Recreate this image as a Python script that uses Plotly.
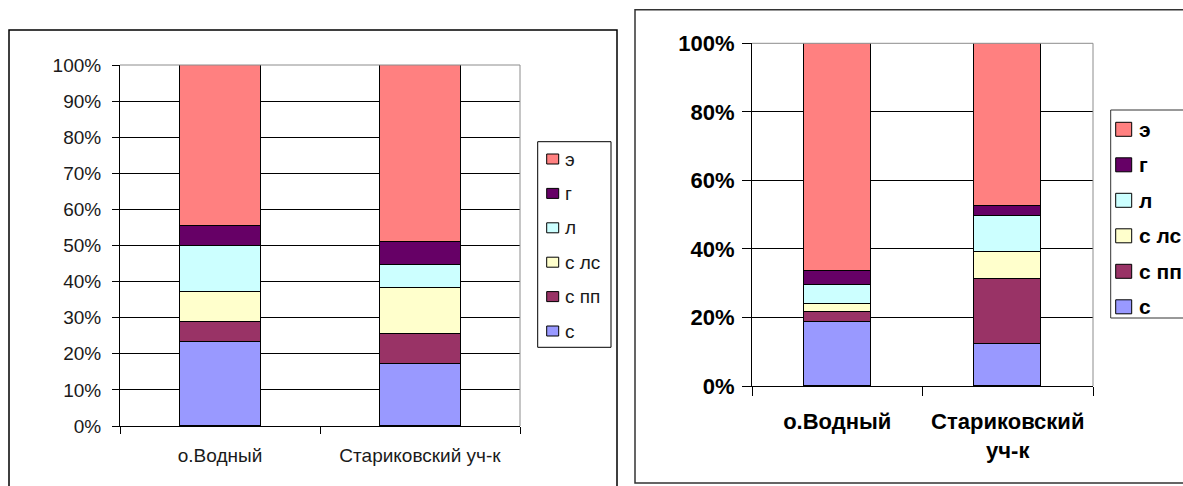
import plotly.graph_objects as go

W, H = 1183, 486

# Sites (categories) and series, bottom of the stack first
sites_left = ["о.Водный", "Стариковский уч-к"]
sites_right = ["о.Водный", "Стариковский<br>уч-к"]
series = ["с", "с пп", "с лс", "л", "г", "э"]
colors = ["#9999FF", "#993366", "#FFFFCC", "#CCFFFF", "#660066", "#FF8080"]

# Shares, % (left chart)
left_vodny = [23.4, 5.3, 8.5, 12.7, 5.5, 44.6]
left_starik = [17.1, 8.4, 12.8, 6.3, 6.4, 49.0]
# Shares, % (right chart)
right_vodny = [18.6, 2.9, 2.3, 5.5, 4.3, 66.4]
right_starik = [12.2, 19.0, 7.8, 10.5, 2.9, 47.6]

y_ticks_left = list(range(0, 101, 10))
y_ticks_right = list(range(0, 101, 20))
y_labels_left = [f"{v}%" for v in y_ticks_left]
y_labels_right = [f"{v}%" for v in y_ticks_right]


def px_x(p):
    return p / W


def px_y(p):
    return 1 - p / H


fig = go.Figure()

for i, name in enumerate(series):
    fig.add_trace(go.Bar(
        x=sites_left, y=[left_vodny[i], left_starik[i]], name=name,
        marker=dict(color=colors[i], line=dict(color="black", width=1)),
        width=0.405, xaxis="x", yaxis="y", showlegend=False,
        hoverinfo="skip"))
    fig.add_trace(go.Bar(
        x=sites_right, y=[right_vodny[i], right_starik[i]], name=name,
        marker=dict(color=colors[i], line=dict(color="black", width=1)),
        width=0.395, xaxis="x2", yaxis="y2", showlegend=False,
        hoverinfo="skip"))

font_l = dict(family="Liberation Sans, Arial, sans-serif", size=19, color="#1a1a1a")
font_r = dict(family="Liberation Sans, Arial, sans-serif", size=22, color="black", weight="bold")

common_x = dict(type="category", showgrid=False, showline=True, linecolor="black",
                linewidth=1, ticks="outside", tickson="boundaries", tickcolor="black",
                range=[-0.5, 1.5], fixedrange=True, automargin=False)
common_y = dict(range=[0, 100], showline=True, linecolor="black", linewidth=1,
                showgrid=True, gridcolor="black", gridwidth=1, zeroline=False,
                ticks="outside", tickcolor="black", tickmode="array",
                fixedrange=True, automargin=False)

fig.update_layout(
    template="none",
    width=W, height=H, margin=dict(l=0, r=0, t=0, b=0, autoexpand=False),
    paper_bgcolor="white", plot_bgcolor="white", barmode="stack", bargap=0,
    showlegend=False,
    xaxis=dict(common_x, domain=[px_x(120), px_x(520)], anchor="y",
               tickfont=font_l, ticklen=7, ticklabelstandoff=12),
    yaxis=dict(common_y, domain=[px_y(426), px_y(65)], anchor="x",
               tickvals=y_ticks_left, ticktext=y_labels_left, tickfont=font_l,
               ticklen=7, ticklabelstandoff=7),
    xaxis2=dict(common_x, domain=[px_x(752), px_x(1093)], anchor="y2",
                tickfont=font_r, ticklen=9, ticklabelstandoff=16),
    yaxis2=dict(common_y, domain=[px_y(386), px_y(43.3)], anchor="x2",
                tickvals=y_ticks_right, ticktext=y_labels_right, tickfont=font_r,
                ticklen=9, ticklabelstandoff=3),
)

shapes = []
annotations = []

# Plot-area frame: grey top and right edges
for xa, ya in (("x", "y"), ("x2", "y2")):
    shapes.append(dict(type="line", xref=f"{xa} domain", yref=f"{ya} domain",
                       x0=0, x1=1, y0=1, y1=1, layer="above",
                       line=dict(color="#8c8c8c", width=1)))
    shapes.append(dict(type="line", xref=f"{xa} domain", yref=f"{ya} domain",
                       x0=1, x1=1, y0=0, y1=1, layer="above",
                       line=dict(color="#8c8c8c", width=1)))

# Chart panel borders
shapes.append(dict(type="rect", xref="paper", yref="paper",
                   x0=px_x(9), x1=px_x(617), y0=px_y(492), y1=px_y(30),
                   line=dict(color="black", width=1.5)))
shapes.append(dict(type="rect", xref="paper", yref="paper",
                   x0=px_x(635), x1=px_x(1190), y0=px_y(483), y1=px_y(9.7),
                   line=dict(color="#333333", width=1.5)))

# Legends (top entry is the top of the stack)
legend_specs = [
    # box x0, x1, y0, y1, first item y, step, swatch x0, swatch w, swatch h, text x, font, border
    (537.7, 611, 141.7, 347.3, 159, 34.4, 546.7, 12, 10, 563, font_l, "black"),
    (1110.7, 1195, 110, 318, 129.3, 35.5, 1115.7, 16, 14, 1137, dict(font_r, size=21), "#333333"),
]
for bx0, bx1, by0, by1, iy0, step, sx0, sw, sh, tx, fnt, bcol in legend_specs:
    shapes.append(dict(type="rect", xref="paper", yref="paper",
                       x0=px_x(bx0), x1=px_x(bx1), y0=px_y(by1), y1=px_y(by0),
                       line=dict(color=bcol, width=1), fillcolor="white"))
    for k, idx in enumerate(reversed(range(len(series)))):
        cy = iy0 + k * step
        shapes.append(dict(type="rect", xref="paper", yref="paper",
                           x0=px_x(sx0), x1=px_x(sx0 + sw),
                           y0=px_y(cy + sh / 2), y1=px_y(cy - sh / 2),
                           line=dict(color="black", width=1), fillcolor=colors[idx]))
        annotations.append(dict(xref="paper", yref="paper", x=px_x(tx), y=px_y(cy),
                                xanchor="left", yanchor="middle", showarrow=False,
                                text=series[idx], font=fnt))

fig.update_layout(shapes=shapes, annotations=annotations)

fig.write_html("out.html")
